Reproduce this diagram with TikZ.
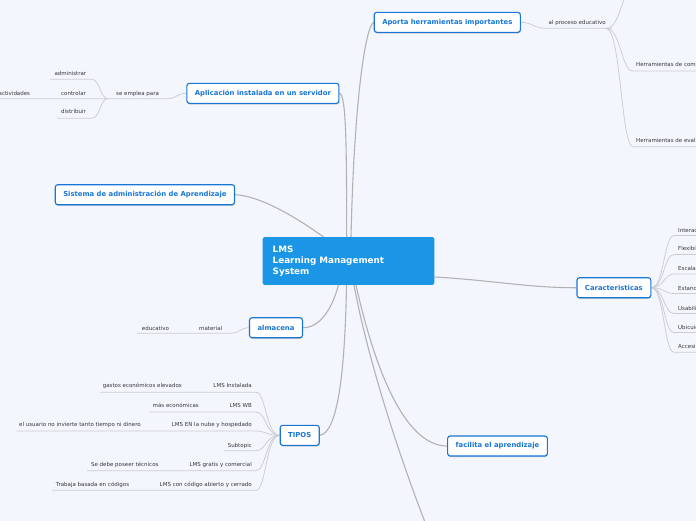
\documentclass[tikz,border=0pt]{standalone}
\usepackage{fontspec}
\setmainfont{DejaVu Sans}
\usetikzlibrary{shadows,calc}
\definecolor{bg}{RGB}{243,246,253}
\definecolor{tblue}{RGB}{24,118,214}
\definecolor{cblue}{RGB}{27,150,230}
\definecolor{mainline}{RGB}{178,178,178}
\definecolor{subline}{RGB}{205,205,208}
\definecolor{lbl}{RGB}{55,55,60}
\pgfdeclarelayer{back}
\pgfsetlayers{back,main}
\tikzset{
 topic/.style={draw=tblue, line width=1.1pt, fill=white, rounded corners=2.5pt, text=tblue,
   font=\fontsize{6.85}{8}\selectfont\bfseries, inner xsep=8pt, inner ysep=0pt, minimum height=20pt,
   drop shadow={shadow xshift=0.3pt, shadow yshift=-1.2pt, opacity=0.3, fill=black!60}},
 central/.style={fill=cblue, rounded corners=2pt, text=white, font=\fontsize{8.8}{10.8}\selectfont\bfseries,
   align=left, text width=151.6pt, inner xsep=10pt, minimum height=47.7pt},
 lab/.style={font=\fontsize{5.5}{6.6}\selectfont, text=lbl, inner sep=0pt},
 conn/.style={draw=mainline, line width=1.1pt},
 sub/.style={draw=subline, line width=0.75pt},
}
\begin{document}
\begin{tikzpicture}[x=1pt,y=-1pt]
\useasboundingbox (0,0) rectangle (696,520);
% central and main topics
\node[central] (lms) at (348.5,261) {LMS\\Learning Management\\System};
\node[topic] (aporta) at (447.3,22.3) {Aporta herramientas importantes};
\node[topic] (aplic) at (262.9,93.3) {Aplicación instalada en un servidor};
\node[topic] (sist) at (144.9,194.7) {Sistema de administración de Aprendizaje};
\node[topic] (car) at (613.9,287.7) {Caracteristicas};
\node[topic] (alm) at (276,327.7) {almacena};
\node[topic] (tipos) at (299.7,435.3) {TIPOS};
\node[topic] (fac) at (497.5,446) {facilita el aprendizaje};
% labels: Aporta
\node[lab, anchor=base west] (proc) at (548.5,24.3) {al proceso educativo};
\node[lab, anchor=base west] (hcom) at (636,66.7) {Herramientas de comunicación};
\node[lab, anchor=base west] (heva) at (636,142) {Herramientas de evaluación};
% labels: Aplicacion
\node[lab, anchor=base west] (emp) at (116,95.3) {se emplea para};
\node[lab, anchor=base west] (adm) at (54.3,75.3) {administrar};
\node[lab, anchor=base west] (ctrl) at (61,95.3) {controlar};
\node[lab, anchor=base west] (dist) at (61,113.7) {distribuir};
\node[lab, anchor=base east] (act) at (30.3,95.3) {actividades};
% labels: almacena
\node[lab, anchor=base west] (mat) at (199,330.3) {material};
\node[lab, anchor=base west] (edu) at (141.7,330.3) {educativo};
% labels: Caracteristicas
\node[lab, anchor=base west] (k1) at (678,232) {Interactividad};
\node[lab, anchor=base west] (k2) at (678,250.7) {Flexibilidad};
\node[lab, anchor=base west] (k3) at (678,270.5) {Escalabilidad};
\node[lab, anchor=base west] (k4) at (678,290) {Estandarización};
\node[lab, anchor=base west] (k5) at (678,310) {Usabilidad};
\node[lab, anchor=base west] (k6) at (678,329) {Ubicuidad};
\node[lab, anchor=base west] (k7) at (678,348.7) {Accesibilidad};
% labels: TIPOS
\node[lab, anchor=base east] (t1) at (252,387.7) {LMS Instalada};
\node[lab, anchor=base east] (t2) at (252,407.7) {LMS WB};
\node[lab, anchor=base east] (t3) at (252,426.7) {LMS EN la nube y hospedado};
\node[lab, anchor=base east] (t4) at (252,447) {Subtopic};
\node[lab, anchor=base east] (t5) at (252,466) {LMS gratis y comercial};
\node[lab, anchor=base east] (t6) at (252,486) {LMS con código abierto y cerrado};
\node[lab, anchor=base east] (g1) at (182,387.7) {gastos económicos elevados};
\node[lab, anchor=base east] (g2) at (199,407.7) {más económicas};
\node[lab, anchor=base east] (g3) at (141,426.7) {el usuario no invierte tanto tiempo ni dinero};
\node[lab, anchor=base east] (g5) at (158.7,466) {Se debe poseer técnicos};
\node[lab, anchor=base east] (g6) at (129.3,486) {Trabaja basada en códigos};
\coordinate (offpg) at (432,540);
\coordinate (offtop) at (633,-10);
\begin{pgfonlayer}{back}
\fill[bg] (-5,-5) rectangle (701,525);
% main connectors
\draw[conn] ($(lms.north)+(2.5,0)$) .. controls (354,105) and (365,27) .. (aporta.west);
\draw[conn] ($(lms.north)+(-1.8,0)$) .. controls (346.5,150) and (346.5,94) .. (aplic.east);
\draw[conn] ($(lms.north)+(-25,0)$) .. controls (300,220) and (262,196) .. (sist.east);
\draw[conn] ($(lms.east)+(0,16)$) .. controls (490,280) and (530,288) .. (car.west);
\draw[conn] ($(lms.south)+(-10,0)$) .. controls (333,305) and (322,327.7) .. (alm.east);
\draw[conn] ($(lms.south)+(-2,0)$) .. controls (345,370) and (338,433) .. (tipos.east);
\draw[conn] ($(lms.south)+(7.5,0)$) .. controls (375,370) and (405,446) .. (fac.west);
\draw[conn] ($(lms.south)+(5.5,0)$) .. controls (368,360) and (400,460) .. (offpg);
% Aporta branches
\draw[sub] (aporta.east) .. controls (532,22.3) and (534,28.3) .. (546,28.3) -- (612,28.3);
\draw[sub] (606,28.3) .. controls (621,28.3) and (621,-10) .. (offtop) -- (700,-10);
\draw[sub] (606,28.3) .. controls (621,28.3) and (621,71) .. (633,71) -- (700,71);
\draw[sub] (606,28.3) .. controls (621,28.3) and (621,146.7) .. (633,146.7) -- (700,146.7);
% Aplicacion branches
\draw[sub] (aplic.west) .. controls (176,93.3) and (178,98.7) .. (166,98.7) -- (-2,98.7);
\draw[sub] (108,98.7) .. controls (100,98.7) and (100,79.3) .. (92,79.3) -- (50,79.3);
\draw[sub] (108,98.7) .. controls (100,98.7) and (100,118.3) .. (92,118.3) -- (57,118.3);
% almacena branch
\draw[sub] (alm.west) .. controls (240,327.7) and (241,333.3) .. (229,333.3) -- (137,333.3);
% Caracteristicas branches
\foreach \u in {235.5,254.5,274,293.5,313.5,332.5,352.2}{
  \draw[sub] (car.east) .. controls (664,287.7) and (664,\u) .. (674,\u) -- (700,\u);
}
% TIPOS branches
\foreach \u/\l in {392.3/100,412/149,431/16.7,450.7/224,470.7/87,490.3/52}{
  \draw[sub] (tipos.west) .. controls (266,435.3) and (266,\u) .. (256,\u) -- (\l,\u);
}
\end{pgfonlayer}
\end{tikzpicture}
\end{document}
